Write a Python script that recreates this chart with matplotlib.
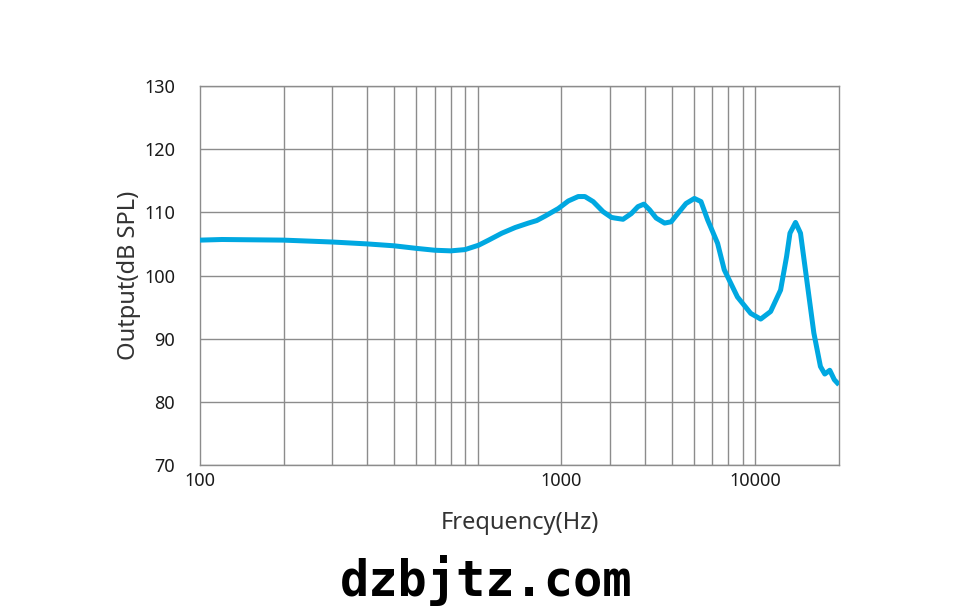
import matplotlib
matplotlib.use("Agg")
import matplotlib.pyplot as plt

# Data (frequency in Hz, level in dB SPL)
freq = [100, 120, 200, 300, 400, 500, 600, 700, 800, 900, 1008, 1095, 1222,
        1365, 1523, 1632, 1748, 1951, 2120, 2301, 2432, 2605, 2829, 3030,
        3115, 3337, 3573, 3776, 3968, 4159, 4391, 4708, 4971, 5253, 5626,
        6030, 6368, 6730, 7308, 7724, 8617, 9621, 10447, 11345, 12322,
        12950, 13320, 13947, 14534, 15362, 16236, 17146, 17777, 18525,
        19241, 20000]
level = [105.6, 105.7, 105.6, 105.3, 105.0, 104.7, 104.3, 104.0, 103.9, 104.1,
         104.8, 105.6, 106.7, 107.6, 108.3, 108.7, 109.4, 110.6, 111.8, 112.5,
         112.5, 111.7, 110.1, 109.2, 109.1, 108.9, 109.8, 110.9, 111.3, 110.4,
         109.1, 108.3, 108.5, 109.8, 111.4, 112.2, 111.7, 108.8, 105.1, 100.9,
         96.6, 94.0, 93.1, 94.3, 97.7, 103.0, 106.7, 108.4, 106.7, 98.8, 90.9,
         85.6, 84.4, 85.0, 83.5, 82.7]

xtick_pos = [100, 2000, 10000]
xtick_labels = ["100", "1000", "10000"]
yticks = [70, 80, 90, 100, 110, 120, 130]
grid_freqs = [200, 300, 400, 500, 600, 700, 800, 900, 1000,
              2000, 3000, 4000, 5000, 6000, 7000, 8000, 9000, 10000]

plt.rcParams['font.family'] = ['Noto Sans', 'DejaVu Sans']

fig = plt.figure(figsize=(9.76, 6.13), dpi=100)
ax = fig.add_axes([200/976, 1-465/613, (839-200)/976, (465-86)/613])

ax.set_xscale('log')
ax.set_xlim(100, 20000)
ax.set_ylim(70, 130)

gc = '#8c8c8c'
for f in grid_freqs:
    ax.axvline(f, color=gc, lw=1.0, zorder=1)
for y in yticks:
    ax.axhline(y, color=gc, lw=1.0, zorder=1)

ax.plot(freq, level, color='#00a8e1', lw=3.6, solid_capstyle='butt',
        solid_joinstyle='round', zorder=3)

ax.set_xticks(xtick_pos)
ax.set_xticklabels(xtick_labels)
ax.set_xticks([], minor=True)
ax.set_yticks(yticks)
ax.set_yticklabels([str(v) for v in yticks])
ax.tick_params(axis='both', length=0, labelsize=13, colors='#1a1a1a')
ax.tick_params(axis='y', pad=18)
ax.tick_params(axis='x', pad=5)

for s in ax.spines.values():
    s.set_color(gc)
    s.set_linewidth(1.0)

ax.set_xlabel('Frequency(Hz)', fontsize=17, color='#333333', labelpad=15)
ax.set_ylabel('Output(dB SPL)', fontsize=17, color='#333333', labelpad=2)

fig.text(486/976, 1-581/613, 'dzbjtz.com', fontsize=35, fontweight='bold',
         family='DejaVu Sans Mono', ha='center', va='center', color='black')

fig.savefig('out.png', dpi=100)
